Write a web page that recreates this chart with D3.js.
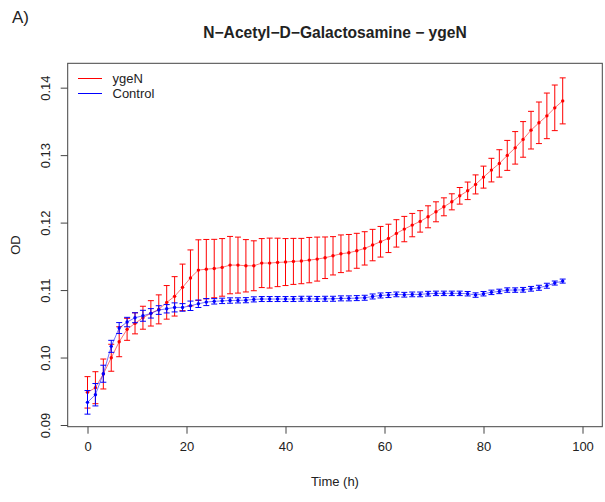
<!DOCTYPE html>
<html>
<head>
<meta charset="utf-8">
<script src="https://cdnjs.cloudflare.com/ajax/libs/d3/7.8.5/d3.min.js"></script>
<style>
  body { margin: 0; background: #fff; }
  text { font-family: "Liberation Sans", Arial, sans-serif; fill: #222; }
</style>
</head>
<body>
<svg id="chart" width="605" height="502"></svg>
<script>
// time points (h)
var hours = [0, 1.6, 3.2, 4.8, 6.4, 8, 9.6, 11.2, 12.8, 14.4, 16, 17.6, 19.2, 20.8, 22.4, 24,
  25.6, 27.2, 28.8, 30.4, 32, 33.6, 35.2, 36.8, 38.4, 40, 41.6, 43.2, 44.8, 46.4, 48, 49.6,
  51.2, 52.8, 54.4, 56, 57.6, 59.2, 60.8, 62.4, 64, 65.6, 67.2, 68.8, 70.4, 72, 73.6, 75.2,
  76.8, 78.4, 80, 81.6, 83.2, 84.8, 86.4, 88, 89.6, 91.2, 92.8, 94.4, 96];

// ygeN mean OD and error
var ygeNMean = [0.09484, 0.09553, 0.09756, 0.09997, 0.10234, 0.10418, 0.10507, 0.10590, 0.10655,
  0.10714, 0.10818, 0.10907, 0.11040, 0.11180, 0.11296, 0.11310, 0.11319, 0.11336, 0.11370,
  0.11370, 0.11360, 0.11360, 0.11400, 0.11400, 0.11410, 0.11415, 0.11425, 0.11430, 0.11444,
  0.11459, 0.11479, 0.11508, 0.11538, 0.11553, 0.11582, 0.11618, 0.11667, 0.11716, 0.11766,
  0.11840, 0.11904, 0.11963, 0.12018, 0.12086, 0.12160, 0.12234, 0.12308, 0.12397, 0.12471,
  0.12566, 0.12674, 0.12778, 0.12877, 0.12996, 0.13108, 0.13233, 0.13370, 0.13479, 0.13582,
  0.13701, 0.13804];
var ygeNErr = [0.00233, 0.00237, 0.00222, 0.00200, 0.00222, 0.00163, 0.00156, 0.00170, 0.00188,
  0.00215, 0.00249, 0.00292, 0.00345, 0.00415, 0.00449, 0.00440, 0.00433, 0.00427, 0.00425,
  0.00415, 0.00388, 0.00370, 0.00363, 0.00370, 0.00359, 0.00348, 0.00341, 0.00336, 0.00336,
  0.00326, 0.00308, 0.00284, 0.00279, 0.00271, 0.00259, 0.00247, 0.00233, 0.00227, 0.00210,
  0.00203, 0.00188, 0.00173, 0.00159, 0.00163, 0.00148, 0.00133, 0.00119, 0.00123, 0.00130,
  0.00141, 0.00163, 0.00175, 0.00203, 0.00222, 0.00241, 0.00264, 0.00279, 0.00308, 0.00338,
  0.00338, 0.00341];

// control mean OD and error
var controlMean = [0.09336, 0.09449, 0.09760, 0.10166, 0.10437, 0.10526, 0.10590, 0.10619, 0.10655,
  0.10704, 0.10723, 0.10743, 0.10743, 0.10767, 0.10797, 0.10822, 0.10833, 0.10840, 0.10845,
  0.10847, 0.10850, 0.10862, 0.10867, 0.10867, 0.10867, 0.10867, 0.10867, 0.10871, 0.10871,
  0.10868, 0.10871, 0.10871, 0.10877, 0.10877, 0.10881, 0.10886, 0.10905, 0.10920, 0.10926,
  0.10936, 0.10931, 0.10936, 0.10936, 0.10946, 0.10951, 0.10951, 0.10951, 0.10951, 0.10946,
  0.10926, 0.10946, 0.10966, 0.10980, 0.11000, 0.11000, 0.11004, 0.11019, 0.11034, 0.11064,
  0.11104, 0.11133];
var controlErr = [0.00175, 0.00166, 0.00126, 0.00089, 0.00081, 0.00070, 0.00074, 0.00081, 0.00070,
  0.00064, 0.00062, 0.00067, 0.00056, 0.00070, 0.00055, 0.00052, 0.00040, 0.00040, 0.00040,
  0.00038, 0.00038, 0.00038, 0.00037, 0.00037, 0.00037, 0.00037, 0.00037, 0.00037, 0.00037,
  0.00037, 0.00037, 0.00037, 0.00037, 0.00037, 0.00037, 0.00037, 0.00037, 0.00037, 0.00037,
  0.00035, 0.00035, 0.00035, 0.00035, 0.00035, 0.00033, 0.00033, 0.00033, 0.00033, 0.00033,
  0.00033, 0.00033, 0.00033, 0.00033, 0.00033, 0.00033, 0.00035, 0.00035, 0.00037, 0.00037,
  0.00030, 0.00030];

var xTicks = [0, 20, 40, 60, 80, 100];
var yTicks = [0.09, 0.10, 0.11, 0.12, 0.13, 0.14];
var seriesNames = ["ygeN", "Control"];
var seriesColors = ["#ff0000", "#0000ff"];

var svg = d3.select("#chart");

var plot = {left: 67.7, right: 602.3, top: 63.3, bottom: 426.7};

// R-style 4% padding around xlim = c(0, 100)
var x = d3.scaleLinear().domain([-4, 104]).range([plot.left, plot.right]);
var y = d3.scaleLinear().domain([0.08975, 0.14361]).range([plot.bottom, plot.top]);

var axisColor = "#444";
var fontFam = "'Liberation Sans', Arial, sans-serif";

// plot frame
svg.append("rect")
    .attr("x", plot.left).attr("y", plot.top)
    .attr("width", plot.right - plot.left)
    .attr("height", plot.bottom - plot.top)
    .attr("fill", "none")
    .attr("stroke", axisColor)
    .attr("stroke-width", 1);

// x axis (ticks only, the frame stands in for the axis line)
var xAxis = svg.append("g")
    .attr("transform", "translate(0," + plot.bottom + ")")
    .call(d3.axisBottom(x).tickValues(xTicks).tickSize(7).tickPadding(8)
      .tickFormat(d3.format("d")).tickSizeOuter(0));
xAxis.select(".domain").remove();
xAxis.selectAll("line").attr("stroke", axisColor);
xAxis.selectAll("text").style("font-size", "13px").attr("fill", "#222")
    .style("font-family", fontFam);

// y axis, labels rotated parallel to the axis
var yAxis = svg.append("g")
    .attr("transform", "translate(" + plot.left + ",0)")
    .call(d3.axisLeft(y).tickValues(yTicks).tickSize(7).tickFormat(d3.format(".2f")));
yAxis.select(".domain").remove();
yAxis.selectAll("line").attr("stroke", axisColor);
yAxis.selectAll("text")
    .attr("x", null).attr("dy", null)
    .attr("transform", "translate(-22,0) rotate(-90)")
    .attr("text-anchor", "middle")
    .attr("dominant-baseline", "central")
    .style("font-size", "13px").attr("fill", "#222")
    .style("font-family", fontFam);

// labels
svg.append("text")
    .attr("x", (plot.left + plot.right) / 2).attr("y", 486)
    .attr("text-anchor", "middle")
    .style("font-size", "13px")
    .text("Time (h)");

svg.append("text")
    .attr("transform", "translate(20," + ((plot.top + plot.bottom) / 2) + ") rotate(-90)")
    .attr("text-anchor", "middle")
    .style("font-size", "13px")
    .text("OD");

svg.append("text")
    .attr("x", (plot.left + plot.right) / 2).attr("y", 38)
    .attr("text-anchor", "middle")
    .style("font-size", "15.6px")
    .style("font-weight", "bold")
    .text("N\u2212Acetyl\u2212D\u2212Galactosamine \u2212 ygeN");

svg.append("text")
    .attr("x", 12).attr("y", 23)
    .style("font-size", "17px")
    .text("A)");

// series
var series = [
  {name: seriesNames[0], color: seriesColors[0], mean: ygeNMean, err: ygeNErr, lineColor: "rgba(255,0,0,0.55)"},
  {name: seriesNames[1], color: seriesColors[1], mean: controlMean, err: controlErr, lineColor: "rgba(0,0,255,0.55)"}
];

var line = d3.line()
    .x(function(d) { return x(d.t); })
    .y(function(d) { return y(d.m); });

series.forEach(function(s) {
  var pts = hours.map(function(t, i) { return {t: t, m: s.mean[i], e: s.err[i]}; });
  var g = svg.append("g");

  g.append("path")
      .datum(pts)
      .attr("d", line)
      .attr("fill", "none")
      .attr("stroke", s.lineColor)
      .attr("stroke-width", 1);

  var bars = g.selectAll(".bar").data(pts).enter().append("g").attr("class", "bar");
  bars.append("line")
      .attr("x1", function(d) { return x(d.t); })
      .attr("x2", function(d) { return x(d.t); })
      .attr("y1", function(d) { return y(d.m - d.e); })
      .attr("y2", function(d) { return y(d.m + d.e); })
      .attr("stroke", s.color);
  bars.append("line")
      .attr("x1", function(d) { return x(d.t) - 3; })
      .attr("x2", function(d) { return x(d.t) + 3; })
      .attr("y1", function(d) { return y(d.m + d.e); })
      .attr("y2", function(d) { return y(d.m + d.e); })
      .attr("stroke", s.color);
  bars.append("line")
      .attr("x1", function(d) { return x(d.t) - 3; })
      .attr("x2", function(d) { return x(d.t) + 3; })
      .attr("y1", function(d) { return y(d.m - d.e); })
      .attr("y2", function(d) { return y(d.m - d.e); })
      .attr("stroke", s.color);

  g.selectAll(".dot").data(pts).enter().append("circle")
      .attr("class", "dot")
      .attr("cx", function(d) { return x(d.t); })
      .attr("cy", function(d) { return y(d.m); })
      .attr("r", 1.7)
      .attr("fill", s.color);
});

// legend (no box)
var legend = svg.append("g");
series.forEach(function(s, i) {
  var ly = 78.5 + i * 15;
  legend.append("line")
      .attr("x1", 78).attr("x2", 102)
      .attr("y1", ly).attr("y2", ly)
      .attr("stroke", s.color);
  legend.append("text")
      .attr("x", 112.5).attr("y", ly + 4.7)
      .style("font-size", "13px")
      .text(s.name);
});
</script>
</body>
</html>
